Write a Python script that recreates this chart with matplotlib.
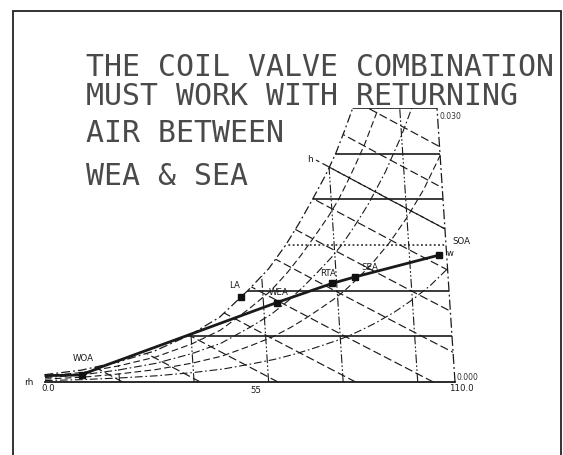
import numpy as np
import matplotlib
matplotlib.use("Agg")
import matplotlib.pyplot as plt
from matplotlib import transforms as mtransforms
from matplotlib.patches import Polygon, Rectangle

# ---------------- data ----------------
title_lines = ["THE COIL VALVE COMBINATION",
               "MUST WORK WITH RETURNING",
               "AIR BETWEEN",
               "WEA & SEA"]

# saturation curve: dry bulb (F) and humidity ratio
sat_T = [0, 10, 20, 30, 40, 48, 56, 62, 67, 71, 75, 79, 82, 85, 87.4,
         90, 95, 100, 105, 110]
sat_w = [0.0008, 0.0013, 0.0022, 0.0034, 0.0052, 0.0071, 0.0100, 0.0124,
         0.0150, 0.0174, 0.0200, 0.0227, 0.0250, 0.0277, 0.0300,
         0.0326, 0.0383, 0.0450, 0.0527, 0.0620]

w_levels = [0.005, 0.010, 0.015, 0.020, 0.025, 0.030]
db_levels = [20, 40, 60, 80, 100]
rh_levels = [0.8, 0.6, 0.4, 0.2]
h_levels = [5, 10, 15, 20, 25, 30, 35, 40, 45, 50, 55]
h_labeled = 45

T_min, T_max, w_max = 0, 110, 0.030

# state points
pt_labels = ["WOA", "LA", "WEA", "RTA", "SEA", "SOA"]
pt_T = [10.05, 54.1, 63.6, 78.8, 85.0, 108.0]
pt_w = [0.00077, 0.0093, 0.0087, 0.0108, 0.0115, 0.0139]

# thick process line
proc_T = [0, 10.05, 15.0, 39.7, 63.6, 78.8, 85.0, 108.0]
proc_w = [0.0007, 0.00077, 0.0016, 0.0052, 0.0087, 0.0108, 0.0115, 0.0139]

x_tick_vals = [0, 55, 110]
x_tick_text = ["0.0", "55", "110.0"]
w_tick_vals = [0.030, 0.000]
w_tick_text = ["0.030", "0.000"]

# ---------------- figure ----------------
W, H = 563, 455
fig = plt.figure(figsize=(W / 100, H / 100), dpi=100)
fig.patch.set_facecolor("white")

# page frame (open at bottom)
fig.add_artist(Rectangle((13 / W, -0.05), (561 - 13) / W, 1.05 - 11 / H,
                         transform=fig.transFigure, fill=False,
                         lw=1.3, ec="#222222"))

for i, (line, ybase) in enumerate(zip(title_lines, [76, 105, 142, 185])):
    fig.text(86 / W, 1 - ybase / H, line, family="DejaVu Sans Mono",
             fontsize=21.5, color="#4a4a4a", ha="left", va="baseline")

ax = fig.add_axes([45 / W, (H - 382) / H, 410 / W, 274 / H])
ax.set_xlim(T_min, T_max)
ax.set_ylim(0, w_max)
ax.set_axis_off()

SKEW = 161.0
skew = mtransforms.Affine2D(np.array([[1.0, -SKEW, 0.0],
                                      [0.0, 1.0, 0.0],
                                      [0.0, 0.0, 1.0]])) + ax.transData

sat_T_a = np.array(sat_T)
sat_w_a = np.array(sat_w)
inside = sat_w_a <= w_max + 1e-9
poly_T = list(sat_T_a[inside]) + [T_max, T_max, T_min]
poly_w = list(sat_w_a[inside]) + [w_max, 0.0, 0.0]
clip = Polygon(np.column_stack([poly_T, poly_w]), closed=True,
               transform=skew, fill=False, lw=0)
ax.add_patch(clip)

INK = "#1a1a1a"

def draw(T, w, clipped=True, **kw):
    ln, = ax.plot(T, w, transform=skew, color=kw.pop("color", INK), **kw)
    if clipped:
        ln.set_clip_path(clip)
    else:
        ln.set_clip_on(False)
    return ln

# horizontal humidity-ratio lines
for wl in w_levels:
    style = dict(ls=(0, (1.2, 1.6)), lw=1.1) if abs(wl - 0.015) < 1e-9 \
        else dict(ls="-", lw=1.2)
    draw([T_min, T_max + 20], [wl, wl], **style)
draw([T_min, T_max], [0, 0], clipped=False, lw=1.3)

# dry-bulb lines
for tl in db_levels:
    draw([tl, tl], [0, w_max], lw=0.8, ls=(0, (8, 2, 1.5, 2, 1.5, 2)))
draw([T_max, T_max], [0, w_max], clipped=False, lw=0.9,
     ls=(0, (8, 2.5, 1.5, 2.5)))

# relative humidity curves
for k, phi in enumerate(rh_levels):
    ls = (0, (6, 3)) if k % 2 == 0 else (0, (7, 2.5, 1.5, 2.5))
    draw(sat_T_a, phi * sat_w_a, lw=0.8, ls=ls)

# saturation curve
draw(sat_T_a[inside], sat_w_a[inside], clipped=False, lw=0.9,
     ls=(0, (7, 2.5, 1.5, 2.5)))

# enthalpy lines
w_grid = np.array([0.0] + w_levels)
for hv in h_levels:
    T_line = (hv - 1061 * w_grid) / (0.24 + 0.444 * w_grid)
    draw(T_line, w_grid, lw=0.85, ls=(0, (7, 3)))

# the labelled enthalpy line reaches past the saturation curve
w_ext = np.array([0.0168, 0.0243])
T_ext = (h_labeled - 1061 * w_ext) / (0.24 + 0.444 * w_ext)
draw(T_ext, w_ext, clipped=False, lw=0.85, ls=(0, (7, 3)))
ax.annotate("h", xy=(T_ext[1], w_ext[1]), xycoords=skew,
            xytext=(-4, 0.5), textcoords="offset points",
            ha="center", va="center", fontsize=6.5, color=INK,
            annotation_clip=False)

# process line and points
draw(proc_T, proc_w, clipped=False, lw=2.0, solid_capstyle="butt")
ax.plot(pt_T, pt_w, transform=skew, ls="none", marker="s", ms=5,
        color="#111111", clip_on=False)

offsets = {"WOA": (0.7, 12), "LA": (-5, 8.6), "WEA": (1.5, 7.2),
           "RTA": (-3, 7.2), "SEA": (11, 6.5), "SOA": (16, 9.4)}
for lab, tv, wv in zip(pt_labels, pt_T, pt_w):
    ax.annotate(lab, xy=(tv, wv), xycoords=skew, xytext=offsets[lab],
                textcoords="offset points", ha="center", va="center",
                fontsize=6.2, color=INK, annotation_clip=False)

# axis labels
x_off = {"0.0": (2.2, -4.5), "55": (4.3, -5.8), "110.0": (4.3, -5)}
for tv, txt in zip(x_tick_vals, x_tick_text):
    ax.annotate(txt, xy=(tv, 0), xycoords=skew, xytext=x_off[txt],
                textcoords="offset points", ha="center", va="center",
                fontsize=6.2, color=INK, annotation_clip=False)
w_off = {"0.030": (9.4, -5.8), "0.000": (9, 3.6)}
for wv, txt in zip(w_tick_vals, w_tick_text):
    ax.annotate(txt, xy=(T_max, wv), xycoords=skew, xytext=w_off[txt],
                textcoords="offset points", ha="center", va="center",
                fontsize=5.5, color="#333333", annotation_clip=False)
ax.annotate("rh", xy=(T_min, 0), xycoords=skew, xytext=(-11.5, -0.7),
            textcoords="offset points", ha="center", va="center",
            fontsize=6.5, color=INK, annotation_clip=False)
ax.annotate("w", xy=(T_max, 0.015), xycoords=skew, xytext=(3, -5.8),
            textcoords="offset points", ha="center", va="center",
            fontsize=6, color=INK, annotation_clip=False)

fig.savefig("out.png", dpi=100, facecolor="white")
